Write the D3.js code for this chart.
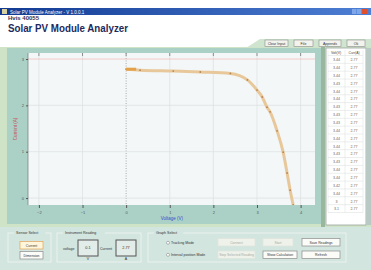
<!DOCTYPE html>
<html>
<head>
<meta charset="utf-8">
<script src="https://cdn.jsdelivr.net/npm/d3@7"></script>
<style>
  body { margin: 0; background: #fff; }
  text { font-family: "Liberation Sans", Arial, sans-serif; }
</style>
</head>
<body>
<svg id="app" width="371" height="270"></svg>
<script>
// values
var curveVolts = [0, 0.32, 1.08, 1.70, 2.39, 2.78, 3.00, 3.12, 3.23, 3.30, 3.46, 3.60, 3.69, 3.76, 3.83];
var curveAmps = [2.78, 2.76, 2.74, 2.72, 2.69, 2.55, 2.33, 2.18, 1.96, 1.86, 1.45, 0.99, 0.54, 0.17, -0.15];
var xTicks = [-2, -1, 0, 1, 2, 3, 4];
var yTicks = [0, 1, 2, 3];
var tableHead = ['Volt(V)', 'Curr(A)'];
var tableVolts = ['3.44', '3.44', '3.44', '3.43', '3.44', '3.44', '3.43', '3.43', '3.43', '3.44',
    '3.44', '3.44', '3.43', '3.43', '3.44', '3.44', '3.42', '3.44', '3', '3.1'];
var tableAmps = ['2.77', '2.77', '2.77', '2.77', '2.77', '2.77', '2.77', '2.77', '2.77', '2.77',
    '2.77', '2.77', '2.77', '2.77', '2.77', '2.77', '2.77', '2.77', '2.77', '2.77'];
var topButtons = ['Clear Input', 'File', 'Appends', 'Ok'];
var readingVoltage = '0.1';
var readingCurrent = '2.77';

var svg = d3.select('#app');

// title bar
var grad = svg.append('defs').append('linearGradient').attr('id', 'bar');
grad.append('stop').attr('offset', 0).attr('stop-color', '#123a92');
grad.append('stop').attr('offset', 1).attr('stop-color', '#4d7fd4');
svg.append('rect').attr('x', 0).attr('y', 8).attr('width', 371).attr('height', 7).style('fill', 'url(#bar)');
svg.append('rect').attr('x', 2).attr('y', 9).attr('width', 5).attr('height', 5).style('fill', '#d8d0a0');
svg.append('text').attr('x', 10).attr('y', 13.6).text('Solar PV Module Analyzer - V 1.0.0.1')
    .style('font-size', '4.5px').style('fill', '#fff');
[352, 357].forEach(function(x) {
    svg.append('rect').attr('x', x).attr('y', 9).attr('width', 4.5).attr('height', 5).style('fill', '#7fa6e8');
});
svg.append('rect').attr('x', 362).attr('y', 9).attr('width', 5).attr('height', 5).style('fill', '#e0502c');

svg.append('text').attr('x', 8).attr('y', 19.5).text('Hvis 40055')
    .style('font-size', '6px').style('font-weight', 'bold').style('fill', '#2a3460');
svg.append('text').attr('x', 8).attr('y', 32).text('Solar PV Module Analyzer')
    .attr('textLength', 120).attr('lengthAdjust', 'spacingAndGlyphs')
    .style('font-size', '10.5px').style('font-weight', 'bold').style('fill', '#1d2a5c');

// green tab behind the top buttons
svg.append('path').attr('d', 'M246,48 L260,39 L371,39 L371,48 Z').style('fill', '#cfe5cf');
var btnX = [265, 294, 319, 347], btnW = [23, 19, 22, 18];
topButtons.forEach(function(b, i) {
    svg.append('rect').attr('x', btnX[i]).attr('y', 40).attr('width', btnW[i]).attr('height', 6.5)
        .style('fill', '#f3f3ee').style('stroke', '#8d8d8d').style('stroke-width', 0.6);
    svg.append('text').attr('x', btnX[i] + btnW[i] / 2).attr('y', 44.8).attr('text-anchor', 'middle')
        .text(b).style('font-size', '3.6px').style('fill', '#333');
});

// main panel
svg.append('rect').attr('x', 0).attr('y', 47).attr('width', 371).attr('height', 182).style('fill', '#cfe3c6');
svg.append('rect').attr('x', 7).attr('y', 48).attr('width', 314).attr('height', 176).style('fill', '#abd1c6');
svg.append('rect').attr('x', 321).attr('y', 47).attr('width', 4).attr('height', 182).style('fill', '#98b79c');

var x = d3.scaleLinear().domain([-2.25, 4.33]).range([28, 315]);
var y = d3.scaleLinear().domain([-0.15, 3.13]).range([205, 53]);

svg.append('rect').attr('x', 28).attr('y', 53).attr('width', 287).attr('height', 152).style('fill', '#f3f7f8');

var grid = svg.append('g');
grid.selectAll('.vg').data(xTicks).enter().append('line')
    .attr('x1', function(d) { return x(d); }).attr('x2', function(d) { return x(d); })
    .attr('y1', 53).attr('y2', 205)
    .style('stroke', function(d) { return d == 0 ? '#8a8a8a' : '#dcdfe0'; })
    .style('stroke-width', 0.7)
    .style('stroke-dasharray', function(d) { return d == 0 ? '1,1.5' : null; });
grid.selectAll('.hg').data(yTicks).enter().append('line')
    .attr('x1', 28).attr('x2', 315)
    .attr('y1', function(d) { return y(d); }).attr('y2', function(d) { return y(d); })
    .style('stroke', function(d) { return d == 3 ? '#f2b4b4' : '#dcdfe0'; })
    .style('stroke-width', 0.7);
svg.append('line').attr('x1', 28).attr('x2', 28).attr('y1', 53).attr('y2', 205).style('stroke', '#6e7a78').style('stroke-width', 0.7);

// axes
var xAxis = svg.append('g').attr('transform', 'translate(0,205)')
    .call(d3.axisBottom(x).tickValues(xTicks).tickSize(3).tickPadding(3).tickFormat(d3.format('d')));
var yAxis = svg.append('g').attr('transform', 'translate(28,0)')
    .call(d3.axisLeft(y).tickValues(yTicks).tickSize(2).tickPadding(2).tickFormat(d3.format('d')));
[xAxis, yAxis].forEach(function(a) {
    a.select('.domain').remove();
    a.selectAll('line').style('stroke', '#555');
    a.selectAll('text').style('font-size', '4px').style('fill', '#555');
});
svg.append('g').selectAll('line').data(xTicks).enter().append('line')
    .attr('x1', function(d) { return x(d); }).attr('x2', function(d) { return x(d); })
    .attr('y1', 53).attr('y2', 56).style('stroke', '#666').style('stroke-width', 0.7);

svg.append('text').attr('x', 172).attr('y', 220).attr('text-anchor', 'middle').text('Voltage (V)')
    .style('font-size', '4.5px').style('fill', '#3a4cc8');
svg.append('text').attr('transform', 'translate(17,129) rotate(-90)').attr('text-anchor', 'middle')
    .text('Current (A)').style('font-size', '4.5px').style('fill', '#c8505a');

// I-V curve
var pts = curveVolts.map(function(v, i) { return [v, curveAmps[i]]; });
var line = d3.line().x(function(d) { return x(d[0]); }).y(function(d) { return y(d[1]); })
    .curve(d3.curveMonotoneX);
var plot = svg.append('g');
plot.append('clipPath').attr('id', 'clip').append('rect')
    .attr('x', 28).attr('y', 53).attr('width', 287).attr('height', 152);
plot.append('path').datum(pts).attr('d', line).attr('clip-path', 'url(#clip)')
    .style('fill', 'none').style('stroke', '#e8c89a').style('stroke-width', 3);
plot.selectAll('circle').data(pts).enter().append('circle').attr('clip-path', 'url(#clip)')
    .attr('cx', function(d) { return x(d[0]); }).attr('cy', function(d) { return y(d[1]); })
    .attr('r', 0.9).style('fill', '#b98450');
plot.append('rect').attr('x', x(0)).attr('y', y(2.78) - 1.5).attr('width', 10).attr('height', 3)
    .style('fill', '#e3a24a');

// readings table
var tbl = svg.append('g');
tbl.append('rect').attr('x', 326).attr('y', 48).attr('width', 40).attr('height', 177)
    .style('fill', '#fff').style('stroke', '#9aa39e').style('stroke-width', 0.8);
tbl.append('rect').attr('x', 366).attr('y', 48).attr('width', 5).attr('height', 177).style('fill', '#b9c9c4');
var rowY = function(i) { return 57 + i * 7.85; };
tbl.selectAll('.hd').data(tableHead).enter().append('text')
    .attr('x', function(d, i) { return 336 + i * 18; }).attr('y', 53.5).attr('text-anchor', 'middle')
    .text(function(d) { return d; }).style('font-size', '3.4px').style('fill', '#444');
tbl.selectAll('.rl').data(d3.range(tableVolts.length + 1)).enter().append('line')
    .attr('x1', 328).attr('x2', 363)
    .attr('y1', function(d) { return rowY(d) - 1.5; }).attr('y2', function(d) { return rowY(d) - 1.5; })
    .style('stroke', '#d9dcdc').style('stroke-width', 0.5);
[328, 345, 363].forEach(function(cx) {
    tbl.append('line').attr('x1', cx).attr('x2', cx).attr('y1', 50).attr('y2', rowY(tableVolts.length) - 1.5)
        .style('stroke', '#d9dcdc').style('stroke-width', 0.5);
});
tbl.selectAll('.cv').data(tableVolts).enter().append('text')
    .attr('x', 336.5).attr('y', function(d, i) { return rowY(i) + 4.2; }).attr('text-anchor', 'middle')
    .text(function(d) { return d; }).style('font-size', '3.6px').style('fill', '#666');
tbl.selectAll('.ca').data(tableAmps).enter().append('text')
    .attr('x', 354).attr('y', function(d, i) { return rowY(i) + 4.2; }).attr('text-anchor', 'middle')
    .text(function(d) { return d; }).style('font-size', '3.6px').style('fill', '#666');

// bottom control strip
svg.append('rect').attr('x', 0).attr('y', 227).attr('width', 371).attr('height', 43).style('fill', '#d3e5df');

var groupBox = function(x0, w, title) {
    svg.append('rect').attr('x', x0).attr('y', 233).attr('width', w).attr('height', 29)
        .style('fill', 'none').style('stroke', '#f0f6f3').style('stroke-width', 0.8);
    svg.append('rect').attr('x', x0 + 6).attr('y', 231).attr('width', title.length * 2.1 + 4).attr('height', 4)
        .style('fill', '#d3e5df');
    svg.append('text').attr('x', x0 + 8).attr('y', 234.3).text(title).style('font-size', '3.6px').style('fill', '#333');
};
groupBox(8, 43, 'Sensor Select');
groupBox(57, 84, 'Instrument Reading');
groupBox(148, 198, 'Graph Select');

var button = function(x0, y0, w, label, style) {
    var fill = style == 'on' ? '#fff6dc' : style == 'off' ? '#eef2ea' : '#fbfbf8';
    var stroke = style == 'on' ? '#e2a35a' : style == 'off' ? '#dfe4dc' : '#8c8c8c';
    svg.append('rect').attr('x', x0).attr('y', y0).attr('width', w).attr('height', 7.5)
        .style('fill', fill).style('stroke', stroke).style('stroke-width', 0.7);
    svg.append('text').attr('x', x0 + w / 2).attr('y', y0 + 5).attr('text-anchor', 'middle').text(label)
        .style('font-size', '3.4px').style('fill', style == 'off' ? '#a8aca6' : '#333');
};
button(20, 241.5, 23, 'Current', 'on');
button(20, 251.5, 23, 'Dimension', '');

// instrument readings
svg.append('text').attr('x', 63).attr('y', 250).text('voltage').style('font-size', '3.6px').style('fill', '#333');
svg.append('text').attr('x', 100).attr('y', 250).text('Current').style('font-size', '3.6px').style('fill', '#333');
[[78, readingVoltage, 'V'], [116, readingCurrent, 'A']].forEach(function(r) {
    svg.append('rect').attr('x', r[0]).attr('y', 240).attr('width', 20).attr('height', 16)
        .style('fill', '#e2ece8').style('stroke', '#555').style('stroke-width', 1);
    svg.append('text').attr('x', r[0] + 10).attr('y', 249).attr('text-anchor', 'middle').text(r[1])
        .style('font-size', '3.8px').style('fill', '#333');
    svg.append('text').attr('x', r[0] + 10).attr('y', 260).attr('text-anchor', 'middle').text(r[2])
        .style('font-size', '3.6px').style('fill', '#333');
});

// graph mode radios
[['Tracking Mode', 244], ['Interval position Mode', 256]].forEach(function(r) {
    svg.append('circle').attr('cx', 168).attr('cy', r[1] - 1.2).attr('r', 1.5)
        .style('fill', '#fff').style('stroke', '#777').style('stroke-width', 0.5);
    svg.append('text').attr('x', 171).attr('y', r[1]).text(r[0]).style('font-size', '3.5px').style('fill', '#333');
});
button(218, 238.5, 37, 'Connect', 'off');
button(263, 238.5, 30, 'Start', 'off');
button(302, 238.5, 38, 'Save Readings', '');
button(218, 251, 37, 'Stop Selected Reading', 'off');
button(263, 251, 34, 'Show Calculation', '');
button(302, 251, 38, 'Refresh', '');
</script>
</body>
</html>
